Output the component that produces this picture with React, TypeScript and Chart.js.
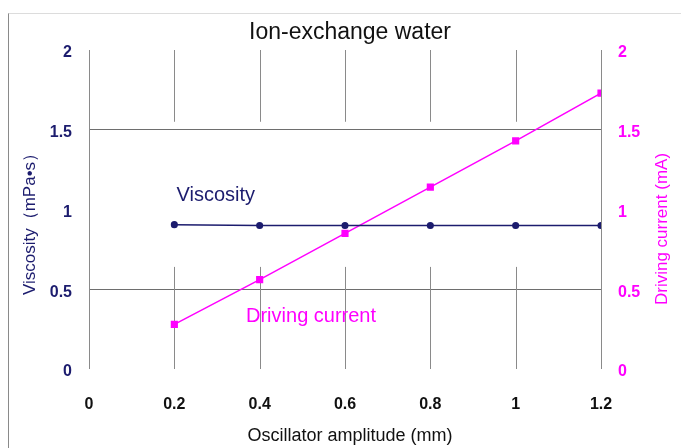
import React, { useEffect, useRef } from "react";
import { Chart, registerables } from "chart.js";

Chart.register(...registerables);

const amplitude = [0.2, 0.4, 0.6, 0.8, 1.0, 1.2];
const viscosity = [0.905, 0.9, 0.9, 0.9, 0.9, 0.9];
const drivingCurrent = [0.28, 0.56, 0.85, 1.14, 1.43, 1.73];
const xTickValues = [0, 0.2, 0.4, 0.6, 0.8, 1, 1.2];
const yTickValues = [0, 0.5, 1, 1.5, 2];

const NAVY = "#1c1c6e";
const MAGENTA = "#ff00ff";
const FONT = "'Liberation Sans', Arial, sans-serif";

const fmt = (v: number) => String(Number(v.toFixed(1)));

const overlayPlugin = {
  id: "overlay",
  beforeDatasetsDraw(chart: any) {
    const { ctx, chartArea, scales } = chart;
    const x = scales.x;
    const y = scales.y;
    ctx.save();
    ctx.strokeStyle = "#8a8a8a";
    ctx.lineWidth = 1;
    xTickValues.forEach((v, i) => {
      const px = Math.round(x.getPixelForValue(v)) + 0.5;
      ctx.beginPath();
      if (i === 0 || i === xTickValues.length - 1) {
        ctx.moveTo(px, chartArea.top);
        ctx.lineTo(px, chartArea.bottom);
      } else {
        ctx.moveTo(px, chartArea.top);
        ctx.lineTo(px, y.getPixelForValue(1.55));
        ctx.moveTo(px, y.getPixelForValue(0.64));
        ctx.lineTo(px, chartArea.bottom);
      }
      ctx.stroke();
    });
    ctx.restore();
  },
  afterDraw(chart: any) {
    const { ctx, scales } = chart;
    const x = scales.x;
    const y = scales.y;
    ctx.save();
    ctx.textAlign = "center";
    ctx.textBaseline = "middle";
    // title
    ctx.fillStyle = "#111";
    ctx.font = `23px ${FONT}`;
    ctx.fillText("Ion-exchange water", 350, 33);
    // x title
    ctx.font = `18px ${FONT}`;
    ctx.fillText("Oscillator amplitude (mm)", 350, 436);
    // left title
    ctx.save();
    ctx.translate(30, 220);
    ctx.rotate(-Math.PI / 2);
    ctx.fillStyle = NAVY;
    ctx.font = `17px ${FONT}`;
    ctx.fillText("Viscosity（mPa•s）", 0, 0);
    ctx.restore();
    // right title
    ctx.save();
    ctx.translate(662, 229);
    ctx.rotate(-Math.PI / 2);
    ctx.fillStyle = MAGENTA;
    ctx.font = `17px ${FONT}`;
    ctx.fillText("Driving current (mA)", 0, 0);
    ctx.restore();
    // series labels
    ctx.textAlign = "left";
    ctx.font = `20px ${FONT}`;
    ctx.fillStyle = NAVY;
    ctx.fillText("Viscosity", x.getPixelForValue(0.205), y.getPixelForValue(1.085));
    ctx.fillStyle = MAGENTA;
    ctx.fillText("Driving current", x.getPixelForValue(0.368), y.getPixelForValue(0.33));
    ctx.restore();
  },
};

export default function App() {
  const ref = useRef<HTMLCanvasElement>(null);
  useEffect(() => {
    if (!ref.current) return;
    const tickFont = { family: FONT, size: 16, weight: "bold" as const };
    const chart = new Chart(ref.current, {
      type: "line",
      data: {
        datasets: [
          {
            label: "Viscosity",
            data: amplitude.map((a, i) => ({ x: a, y: viscosity[i] })),
            borderColor: NAVY,
            backgroundColor: NAVY,
            borderWidth: 1.5,
            pointStyle: "circle",
            pointRadius: 2.8,
            yAxisID: "y",
          },
          {
            label: "Driving current",
            data: amplitude.map((a, i) => ({ x: a, y: drivingCurrent[i] })),
            borderColor: MAGENTA,
            backgroundColor: MAGENTA,
            borderWidth: 1.5,
            pointStyle: "rect",
            pointRadius: 4,
            yAxisID: "y1",
          },
        ],
      },
      plugins: [overlayPlugin],
      options: {
        responsive: false,
        animation: false,
        layout: { padding: { top: 50, left: 0, right: 0, bottom: 0 } },
        plugins: { legend: { display: false }, tooltip: { enabled: false }, title: { display: false } },
        scales: {
          x: {
            type: "linear",
            min: 0,
            max: 1.2,
            afterBuildTicks: (s: any) => {
              s.ticks = xTickValues.map((v) => ({ value: v }));
            },
            afterFit: (s: any) => {
              s.height = 79;
            },
            grid: { display: false, drawTicks: false },
            border: { display: false },
            ticks: {
              padding: 26,
              color: "#111",
              font: tickFont,
              callback: (v: any) => fmt(Number(v)),
            },
          },
          y: {
            type: "linear",
            position: "left",
            min: 0,
            max: 2,
            afterBuildTicks: (s: any) => {
              s.ticks = yTickValues.map((v) => ({ value: v }));
            },
            afterFit: (s: any) => {
              s.width = 89;
            },
            grid: {
              drawTicks: false,
              color: (c: any) => (c.tick && (c.tick.value === 0.5 || c.tick.value === 1.5) ? "#6e6e6e" : "rgba(0,0,0,0)"),
              lineWidth: 1,
            },
            border: { display: false },
            ticks: {
              padding: 17,
              labelOffset: 3,
              color: NAVY,
              font: tickFont,
              callback: (v: any) => fmt(Number(v)),
            },
          },
          y1: {
            type: "linear",
            position: "right",
            min: 0,
            max: 2,
            afterBuildTicks: (s: any) => {
              s.ticks = yTickValues.map((v) => ({ value: v }));
            },
            afterFit: (s: any) => {
              s.width = 80;
            },
            grid: { display: false, drawTicks: false },
            border: { display: false },
            ticks: {
              padding: 17,
              labelOffset: 3,
              color: MAGENTA,
              font: tickFont,
              callback: (v: any) => fmt(Number(v)),
            },
          },
        },
      },
    } as any);
    return () => chart.destroy();
  }, []);
  return (
    <div style={{ position: "fixed", left: 0, top: 0, width: 681, height: 448, background: "#fff" }}>
      <div
        style={{
          position: "absolute",
          left: 8,
          top: 13,
          width: 673,
          height: 435,
          borderLeft: "1px solid #8a8a8a",
          borderTop: "1px solid #dcdcdc",
        }}
      />
      <canvas ref={ref} width={681} height={448} style={{ position: "absolute", left: 0, top: 0 }} />
    </div>
  );
}
